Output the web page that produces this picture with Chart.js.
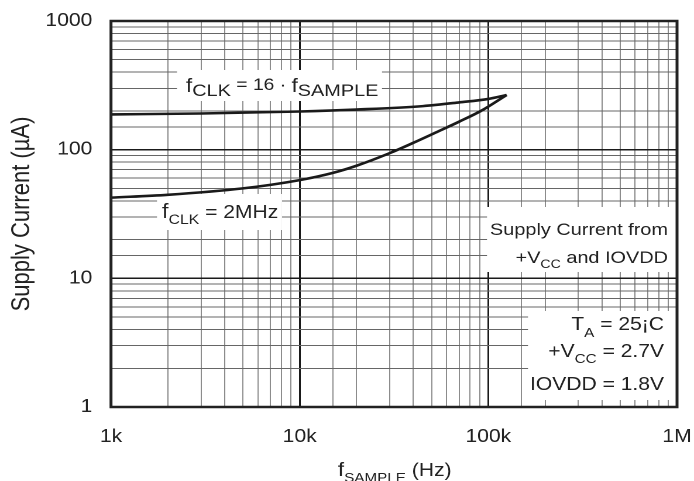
<!DOCTYPE html>
<html>
<head>
<meta charset="utf-8">
<script src="https://cdn.jsdelivr.net/npm/chart.js@4"></script>
<style>
  html, body { margin: 0; padding: 0; background: #fff; overflow: hidden; }
  /* the reference is a horizontally stretched plot, so draw narrow and stretch */
  #wrap { position: absolute; left: 0; top: 0; width: 593px; height: 481px;
          transform: scaleX(1.1703); transform-origin: 0 0; }
</style>
</head>
<body>
<div id="wrap"><canvas id="chart"></canvas></div>
<script>
// sample frequency (Hz) and supply current (uA)
const upperFreq    = [1000, 3000, 10000, 20000, 45000, 70000, 100000, 125000];
const upperCurrent = [188, 191, 198, 205, 218, 233, 248, 266];

const lowerFreq    = [1000, 2000, 5000, 10000, 15000, 20000, 30000, 40000, 55000, 70000, 93000, 125000];
const lowerCurrent = [42.4, 44.6, 50, 58, 66, 75, 94, 113, 140, 165, 203, 266];

const xTickValues = [1e3, 1e4, 1e5, 1e6];
const xTickLabels = ['1k', '10k', '100k', '1M'];
const yTickValues = [1, 10, 100, 1000];
const yTickLabels = ['1', '10', '100', '1000'];

const FONT = '"Liberation Sans", Arial, sans-serif';
const INK = '#222';
const STRETCH = 694 / 593;
const sx = px => px / STRETCH;   // screen x -> canvas x

const toPoints = (xs, ys) => xs.map((x, i) => ({ x, y: ys[i] }));
const findTick = (vals, v) => vals.findIndex(t => Math.abs(v / t - 1) < 1e-6);

function richWidth(ctx, parts) {
  let w = 0;
  parts.forEach(p => { ctx.font = `${p.size}px ${FONT}`; w += ctx.measureText(p.t).width; });
  return w;
}

function drawRich(ctx, parts, x, y, align) {
  let cx = align === 'right' ? x - richWidth(ctx, parts) : x;
  ctx.textAlign = 'left';
  ctx.textBaseline = 'alphabetic';
  parts.forEach(p => {
    ctx.font = `${p.size}px ${FONT}`;
    ctx.fillText(p.t, cx, y + (p.dy || 0));
    cx += ctx.measureText(p.t).width;
  });
}

const annotations = {
  id: 'annotations',
  beforeDatasetsDraw(chart) {
    const ctx = chart.ctx;
    ctx.save();
    // white boxes that hide the grid behind the notes
    ctx.fillStyle = '#fff';
    ctx.fillRect(sx(177), 70, sx(382) - sx(177), 31);
    ctx.fillRect(sx(157), 194, sx(282) - sx(157), 36);
    ctx.fillRect(sx(487), 207, sx(676) - sx(487), 65);
    ctx.fillRect(sx(528), 311, sx(676) - sx(528), 89);

    ctx.fillStyle = INK;
    drawRich(ctx, [
      { t: 'f', size: 19 },
      { t: 'CLK', size: 17, dy: 4 },
      { t: ' = 16 · ', size: 16.5, dy: -2 },
      { t: 'f', size: 19 },
      { t: 'SAMPLE', size: 17, dy: 4 },
    ], sx(186), 92, 'left');

    drawRich(ctx, [
      { t: 'f', size: 20 },
      { t: 'CLK', size: 13.5, dy: 6 },
      { t: ' = 2MHz', size: 18 },
    ], sx(162), 218, 'left');

    drawRich(ctx, [{ t: 'Supply Current from', size: 17 }], sx(668), 235, 'right');
    drawRich(ctx, [
      { t: '+V', size: 17 },
      { t: 'CC', size: 12, dy: 5 },
      { t: ' and IOVDD', size: 17 },
    ], sx(668), 263, 'right');

    drawRich(ctx, [
      { t: 'T', size: 18 },
      { t: 'A', size: 13, dy: 7 },
      { t: ' = 25¡C', size: 18 },
    ], sx(664), 330, 'right');
    drawRich(ctx, [
      { t: '+V', size: 18 },
      { t: 'CC', size: 13, dy: 6 },
      { t: ' = 2.7V', size: 18 },
    ], sx(664), 357, 'right');
    drawRich(ctx, [{ t: 'IOVDD = 1.8V', size: 18 }], sx(664), 390, 'right');
    ctx.restore();
  },
  afterDraw(chart) {
    const { ctx, chartArea: a } = chart;
    ctx.save();
    // plot frame
    ctx.strokeStyle = INK;
    ctx.lineWidth = 2.5;
    ctx.strokeRect(a.left, a.top, a.right - a.left, a.bottom - a.top);

    // axis titles
    ctx.fillStyle = INK;
    drawRich(ctx, [
      { t: 'f', size: 19 },
      { t: 'SAMPLE', size: 13, dy: 6 },
      { t: ' (Hz)', size: 18 },
    ], sx(338), 476, 'left');

    ctx.translate(sx(22), 214);
    ctx.rotate(-Math.PI / 2);
    ctx.font = `22px ${FONT}`;
    ctx.textAlign = 'center';
    ctx.textBaseline = 'middle';
    ctx.fillText('Supply Current (µA)', 0, 0);
    ctx.restore();
  },
};

const gridOpts = (vals, minor) => ({
  drawTicks: false,
  color: c => findTick(vals, c.tick.value) >= 0 ? '#1a1a1a' : minor,
  lineWidth: c => findTick(vals, c.tick.value) >= 0 ? 1.5 : 1,
});

new Chart(document.getElementById('chart'), {
  type: 'line',
  data: {
    datasets: [
      { data: toPoints(upperFreq, upperCurrent), borderColor: '#1a1a1a', borderWidth: 2.6,
        pointRadius: 0, cubicInterpolationMode: 'monotone', fill: false },
      { data: toPoints(lowerFreq, lowerCurrent), borderColor: '#1a1a1a', borderWidth: 2.6,
        pointRadius: 0, cubicInterpolationMode: 'monotone', fill: false },
    ],
  },
  options: {
    responsive: true,
    maintainAspectRatio: false,
    devicePixelRatio: 2,
    animation: false,
    layout: { padding: { left: 0, top: 21, right: 14.5, bottom: 0 } },
    plugins: { legend: { display: false }, tooltip: { enabled: false } },
    scales: {
      x: {
        type: 'logarithmic', min: 1e3, max: 1e6,
        border: { display: false },
        grid: gridOpts(xTickValues, '#8c8c8c'),
        ticks: {
          autoSkip: false, maxRotation: 0, minRotation: 0, padding: 19,
          color: INK, font: { family: FONT, size: 18 },
          callback: v => { const i = findTick(xTickValues, v); return i >= 0 ? xTickLabels[i] : ''; },
        },
        afterFit: s => { s.height = 74; s.paddingLeft = 0; s.paddingRight = 0; },
      },
      y: {
        type: 'logarithmic', min: 1, max: 1000,
        border: { display: false },
        grid: gridOpts(yTickValues, '#666'),
        ticks: {
          autoSkip: false, padding: 16,
          color: INK, font: { family: FONT, size: 18 },
          callback: v => { const i = findTick(yTickValues, v); return i >= 0 ? yTickLabels[i] : ''; },
        },
        afterFit: s => { s.width = 94.85; s.paddingTop = 0; s.paddingBottom = 0; },
      },
    },
  },
  plugins: [annotations],
});
</script>
</body>
</html>
